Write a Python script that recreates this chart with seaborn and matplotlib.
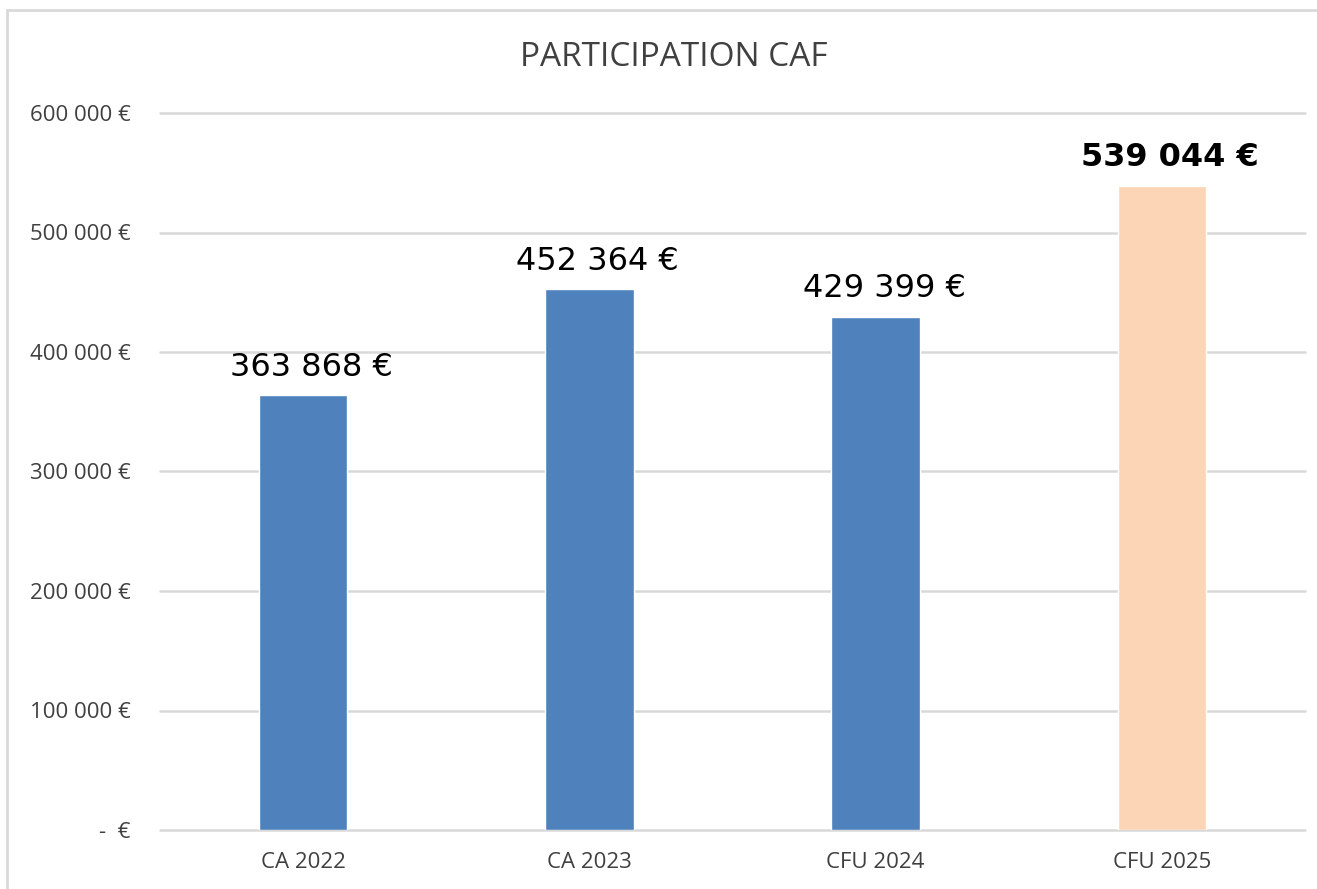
import numpy as np
import pandas as pd
import seaborn as sns
import matplotlib.pyplot as plt
from matplotlib.lines import Line2D

# donnees du graphique
categories = ["CA 2022", "CA 2023", "CFU 2024", "CFU 2025"]
valeurs = [363868, 452364, 429399, 539044]
etiquettes = ["363 868 €", "452 364 €", "429 399 €", "539 044 €"]
couleurs = ["#4F81BD", "#4F81BD", "#4F81BD", "#FBD5B5"]
yticks = [0, 100000, 200000, 300000, 400000, 500000, 600000]
ytick_labels = ["-  €", "100 000 €", "200 000 €", "300 000 €", "400 000 €", "500 000 €", "600 000 €"]

df = pd.DataFrame({"cat": categories, "val": valeurs})

sns.set_style("white")
plt.rcParams['font.family'] = ['Open Sans', 'DejaVu Sans']

fig = plt.figure(figsize=(13.17, 8.89), dpi=100)
ax = fig.add_axes([160/1317, 1 - 830/889, (1305-160)/1317, (830-113)/889])

sns.barplot(data=df, x="cat", y="val", hue="cat", palette=couleurs,
            width=0.31, saturation=1, legend=False, ax=ax, zorder=3)

ax.set_xlim(-0.5, 3.5)
ax.set_ylim(0, 600000)
ax.set_yticks(yticks)
ax.set_yticklabels(ytick_labels)
ax.set_xlabel("")
ax.set_ylabel("")
ax.tick_params(axis="y", length=0, pad=21, labelsize=16, labelcolor="#404040")
ax.tick_params(axis="x", length=0, pad=16, labelsize=16, labelcolor="#404040")
ax.grid(axis="y", color="#D9D9D9", linewidth=1.8, zorder=0)
ax.set_axisbelow(True)
for gl in ax.get_ygridlines():
    gl.set_clip_on(False)
for s in ax.spines.values():
    s.set_visible(False)

# etiquettes de valeurs (un peu decalees a droite comme dans excel)
for i, (v, t) in enumerate(zip(valeurs, etiquettes)):
    ax.annotate(t, (i, v), xytext=(6, 9), textcoords="offset points",
                ha="center", va="bottom", fontsize=23, family="DejaVu Sans",
                fontweight="bold" if i == 3 else "normal", color="black")

fig.text(674/1317, 1 - 57/889, "PARTICIPATION CAF", ha="center", va="center",
         fontsize=24, color="#404040")

# cadre du graphique
fig.add_artist(Line2D([7/1317, 7/1317], [0, 1 - 10/889], color="#D9D9D9", linewidth=2,
                      transform=fig.transFigure))
fig.add_artist(Line2D([7/1317, 1], [1 - 10/889, 1 - 10/889], color="#D9D9D9", linewidth=2,
                      transform=fig.transFigure))

plt.savefig("out.png", dpi=100)
